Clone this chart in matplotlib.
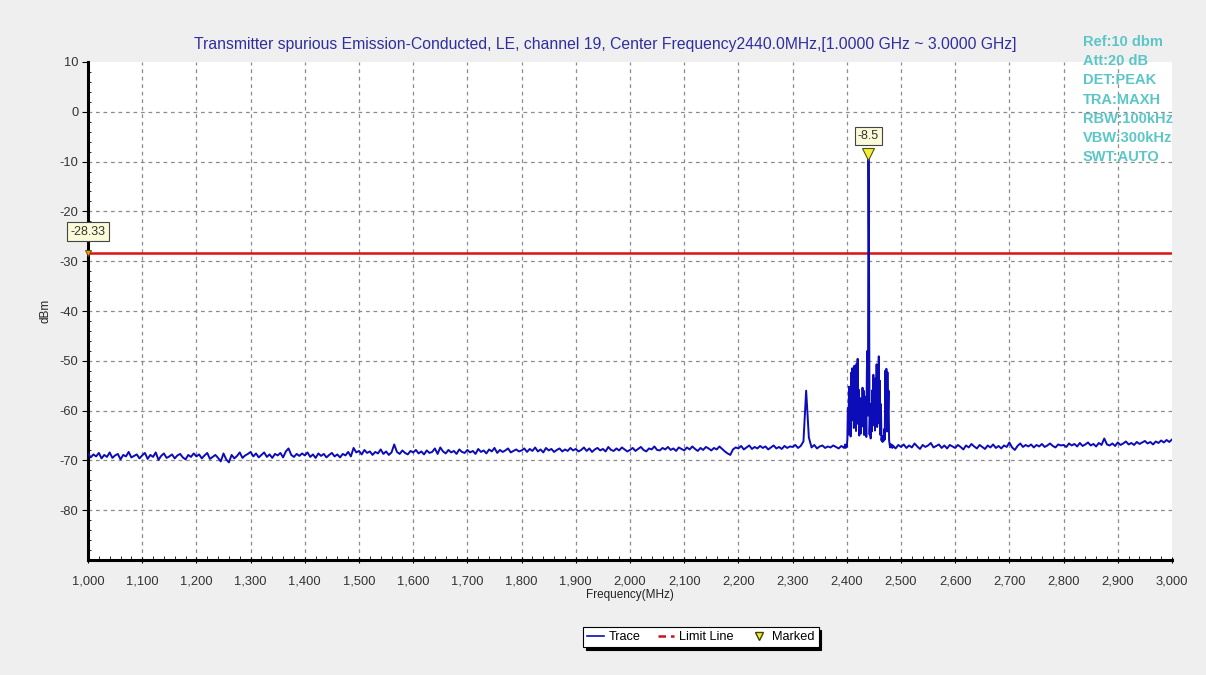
import numpy as np
import matplotlib
matplotlib.use("Agg")
import matplotlib.pyplot as plt
from matplotlib.lines import Line2D
from matplotlib.ticker import MultipleLocator, FuncFormatter

# ---- measurement data -------------------------------------------------------
# Noise floor sampled every 5 MHz from 1000 to 2395 MHz (dBm)
floor_low = [
    -68.6, -69.4, -68.8, -69.2, -68.5, -69.6, -68.9, -69.3, -68.4, -69.5,
    -69.0, -68.7, -69.8, -68.9, -69.2, -68.3, -69.4, -69.1, -68.8, -69.6,
    -69.0, -68.5, -69.7, -68.9, -69.3, -68.4, -69.9, -69.1, -68.6, -69.5,
    -69.2, -68.8, -69.6, -69.0, -68.7, -69.4, -69.8, -68.9, -69.3, -68.6,
    -69.2, -68.8, -69.6, -69.0, -68.5, -69.7, -69.3, -68.9, -69.5, -70.2,
    -68.6, -69.8, -70.4, -68.9, -69.6, -69.1, -68.4, -69.5, -69.0, -68.7,
    -68.3, -69.2, -68.6, -69.4, -68.9, -68.4, -69.3, -68.8, -69.5, -68.7,
    -69.0, -68.5, -69.4, -68.2, -67.6, -68.9, -69.3, -68.7, -69.1, -68.6,
    -69.0, -68.4, -69.3, -68.8, -69.5, -68.6, -69.1, -68.7, -69.4, -68.9,
    -68.5, -69.2, -68.8, -69.4, -68.7, -69.0, -68.3, -69.2, -67.5, -68.4,
    -68.1, -68.8, -67.9, -68.5, -68.2, -68.9, -68.3, -68.6, -67.8, -68.7,
    -68.2, -68.9, -68.4, -66.8, -68.3, -68.7, -68.0, -68.5, -68.8, -68.1,
    -68.4, -67.9, -68.6, -68.2, -68.8, -68.0, -68.5, -68.3, -67.6, -68.7,
    -67.4, -68.2, -68.6, -67.9, -68.4, -68.1, -68.7, -67.8, -68.3, -68.5,
    -67.9, -68.4, -68.1, -68.7, -67.7, -68.3, -68.0, -68.6, -67.8, -68.2,
    -67.5, -68.5, -67.9, -68.3, -68.0, -67.6, -68.4, -68.1, -67.8, -68.2,
    -68.0, -67.6, -68.3, -67.7, -68.1, -67.4, -68.2, -67.8, -68.4, -67.5,
    -68.0, -67.7, -68.3, -67.9, -67.6, -68.2, -67.8, -68.1, -67.5, -68.0,
    -67.7, -68.2, -67.9, -67.4, -68.1, -67.6, -68.3, -67.8, -67.5, -68.0,
    -67.7, -68.2, -67.3, -67.9, -68.1, -67.6, -68.0, -67.4, -67.8, -68.2,
    -67.9, -67.5, -68.1, -67.7, -67.3, -67.9, -68.2, -67.6, -67.8, -67.2,
    -67.9, -68.0, -67.5, -67.8, -67.3, -67.9, -67.6, -68.1, -67.4, -67.7,
    -68.0, -67.4, -67.8, -67.2, -67.7, -68.1, -67.5, -67.9, -67.3, -67.6,
    -68.0, -67.5, -67.8, -67.2, -67.7, -68.2, -68.6, -68.9, -67.8, -67.4,
    -67.6, -67.1, -67.8, -67.4, -67.0, -67.7, -67.3, -67.6, -67.1, -67.5,
    -67.2, -67.8, -67.4, -67.0, -67.6, -67.3, -67.7, -67.1, -67.5, -67.2,
    -67.3, -66.9, -67.5, -67.1, -66.2, -56.0, -65.4, -67.4, -66.9, -67.6,
    -67.2, -67.0, -67.5, -67.2, -67.4, -67.0, -67.3, -67.6, -67.1, -67.5,
]

# In-band burst sampled every 1 MHz from 2396 to 2484 MHz (dBm)
burst = [
    -67.2, -66.8, -67.5, -66.9,
    -67.3, -65.8, -59.5, -64.8, -55.2, -63.9, -57.0, -65.2, -52.4, -62.0,
    -51.5, -60.8, -54.7, -63.5, -51.0, -59.9, -53.2, -64.1, -50.6, -61.4,
    -49.6, -62.7, -55.8, -65.0, -62.0, -57.5, -64.6, -58.3, -63.2, -55.4,
    -60.7, -56.0, -64.9, -58.8, -63.5, -57.2, -65.3, -52.0, -48.0, -61.0,
    -8.5, -30.0, -64.8, -60.2, -65.6, -58.6, -64.2, -55.9, -63.0, -52.8,
    -62.1, -56.4, -64.0, -53.5, -61.8, -50.7, -63.3, -52.2, -60.4, -49.1,
    -62.6, -54.0, -64.9, -58.7, -66.0, -65.1, -66.3, -65.4, -66.1, -63.7,
    -65.8, -52.0, -61.5, -51.6, -64.2, -52.3, -60.8, -56.0, -65.9, -66.8,
    -67.4, -66.7, -67.3, -66.9, -67.5,
]

# Noise floor sampled every 5 MHz from 2485 to 3000 MHz (dBm)
floor_high = [
    -67.0, -67.6, -66.9,
    -67.3, -66.8, -67.5, -67.0, -67.4, -66.6, -67.2, -67.7, -66.9, -67.3,
    -67.0, -66.5, -67.4, -67.1, -66.8, -67.5, -67.0, -67.6, -66.9, -67.2,
    -67.5, -66.9, -67.3, -67.8, -67.0, -67.4, -66.7, -67.2, -67.6, -66.9,
    -67.3, -67.7, -67.0, -67.4, -66.8, -67.5, -67.1, -67.6, -67.0, -67.3,
    -66.4, -67.4, -67.9, -67.1, -66.6, -67.3, -66.9, -67.2, -66.8, -67.4,
    -66.9, -67.2, -66.7, -67.3, -67.0, -66.6, -67.1, -67.4, -66.8, -67.0,
    -66.9, -67.3, -66.6, -67.0, -66.7, -67.2, -66.5, -67.1, -66.8, -66.4,
    -67.0, -66.7, -67.2, -66.5, -66.9, -65.6, -66.8, -67.0, -66.6, -67.1,
    -66.4, -66.9, -66.6, -66.2, -66.8, -66.5, -66.9, -66.3, -66.7, -66.4,
    -66.1, -66.6, -66.3, -66.8, -66.2, -66.5, -66.0, -66.4, -65.9, -66.3,
    -65.8,
]

limit_dbm = -28.33
peak_freq = 2440.0
peak_dbm = -8.5

x_ticks = list(range(1000, 3001, 100))
y_ticks = list(range(-80, 11, 10))

info_lines = ["Ref:10 dbm", "Att:20 dB", "DET:PEAK", "TRA:MAXH",
              "RBW:100kHz", "VBW:300kHz", "SWT:AUTO"]

# ---- assemble the trace ------------------------------------------------------
f_low = np.arange(len(floor_low)) * 5.0 + 1000.0
f_burst = np.arange(len(burst)) * 1.0 + 2396.0
f_high = np.arange(len(floor_high)) * 5.0 + 2485.0
freq = np.concatenate([f_low, f_burst, f_high])
level = np.concatenate([floor_low, burst, floor_high])

# ---- figure ------------------------------------------------------------------
plt.rcParams['font.family'] = ['Liberation Sans', 'DejaVu Sans']
plt.rcParams['axes.unicode_minus'] = False
fig = plt.figure(figsize=(12.06, 6.75), dpi=100, facecolor='#efefef')
ax = fig.add_axes([88 / 1206, 1 - 560 / 675, (1172 - 88) / 1206, (560 - 62) / 675])
ax.set_facecolor('white')

ax.set_xlim(1000, 3000)
ax.set_ylim(-90, 10)

# dashed grid on interior ticks only
for xv in x_ticks[1:-1]:
    ax.axvline(xv, color='#8c8c8c', lw=0.9, ls=(0, (3, 3)), zorder=1)
for yv in y_ticks[:-1]:
    ax.axhline(yv, color='#8c8c8c', lw=0.9, ls=(0, (3, 3)), zorder=1)

# limit line
ax.axhline(limit_dbm, color='#dd1111', lw=1.8, zorder=3)

# spectrum trace
ax.plot(freq, level, color='#0c0cb8', lw=1.4, zorder=4)

# markers
box_style = dict(boxstyle='square,pad=0.25', fc='#fbfbd9', ec='#444444', lw=0.8)
ax.plot([peak_freq], [peak_dbm], marker='v', ms=8, color='#f2ee3a',
        mec='#555500', mew=0.8, zorder=6, linestyle='none')
ax.annotate(f"{peak_dbm}", xy=(peak_freq, peak_dbm), xytext=(0, 9),
            textcoords='offset points', ha='center', va='bottom', fontsize=9,
            color='#333333', bbox=box_style, zorder=7)
ax.plot([1000], [limit_dbm], marker='v', ms=5, color='#e0a020',
        mec='#664400', mew=0.6, zorder=6, clip_on=False, linestyle='none')
ax.annotate(f"{limit_dbm}", xy=(1000, limit_dbm), xytext=(0, 11),
            textcoords='offset points', ha='center', va='bottom', fontsize=9,
            color='#333333', bbox=box_style, zorder=7, annotation_clip=False)

# axes styling
for side in ('top', 'right'):
    ax.spines[side].set_visible(False)
for side in ('left', 'bottom'):
    ax.spines[side].set_linewidth(2.2)
    ax.spines[side].set_color('black')

ax.set_xticks(x_ticks)
ax.set_yticks(y_ticks)
ax.xaxis.set_minor_locator(MultipleLocator(20))
ax.yaxis.set_minor_locator(MultipleLocator(2))
ax.xaxis.set_major_formatter(FuncFormatter(lambda v, p: f"{int(v):,}"))
ax.tick_params(axis='x', which='major', direction='inout', length=5, width=0.8,
               labelsize=9.3, labelcolor='#333333', pad=9)
ax.tick_params(axis='x', which='minor', direction='in', length=3, width=0.6)
ax.tick_params(axis='y', which='major', direction='out', length=4, width=0.8,
               labelsize=9.3, labelcolor='#333333', pad=3)
ax.tick_params(axis='y', which='minor', direction='in', length=2.5, width=0.6)

ax.set_xlabel("Frequency(MHz)", fontsize=8.5, color='#222222', labelpad=1)
ax.set_ylabel("dBm", fontsize=8.5, color='#222222', labelpad=6)

fig.text(605 / 1206, 1 - 45 / 675,
         "Transmitter spurious Emission-Conducted, LE, channel 19, "
         "Center Frequency2440.0MHz,[1.0000 GHz ~ 3.0000 GHz]",
         ha='center', va='center', fontsize=11.3, color='#2e2ea0')

for i, line in enumerate(info_lines):
    fig.text(1083 / 1206, 1 - (42 + i * 19.2) / 675, line, ha='left', va='center',
             fontsize=10.5, fontweight='bold', color='#5cc6c6')

handles = [
    Line2D([], [], color='#0c0cb8', lw=1.2),
    Line2D([], [], color='#cc1122', lw=1.8, ls=(0, (3, 2))),
    Line2D([], [], color='#f2ee3a', marker='v', ms=6, mec='#444400', ls='none'),
]
leg = fig.legend(handles, ['Trace', 'Limit Line', 'Marked'], ncol=3,
                 loc='center', bbox_to_anchor=(701 / 1206, 1 - 637 / 675),
                 fontsize=9.2, frameon=True, fancybox=False, handlelength=1.3,
                 handletextpad=0.4, columnspacing=1.3, borderpad=0.3,
                 shadow={'color': 'black', 'alpha': 1.0})
leg.get_frame().set_edgecolor('black')
leg.get_frame().set_linewidth(0.8)

fig.savefig('out.png', dpi=100, facecolor=fig.get_facecolor())
